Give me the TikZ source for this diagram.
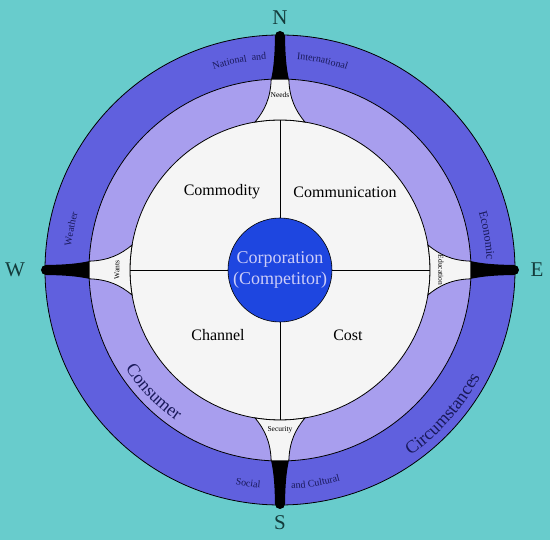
\documentclass[tikz,border=0pt]{standalone}
\usepackage{fontspec}
\setmainfont{Liberation Serif}
\usetikzlibrary{decorations.text}

\definecolor{bgcyan}{RGB}{104,204,204}
\definecolor{darkband}{RGB}{96,96,222}
\definecolor{lightband}{RGB}{168,158,238}
\definecolor{whitedisk}{RGB}{245,245,245}
\definecolor{corpblue}{RGB}{30,70,224}
\definecolor{corptext}{RGB}{205,205,248}
\definecolor{bandtext}{RGB}{25,25,90}
\definecolor{pointtext}{RGB}{20,60,60}

\newcommand{\smallband}{\fontsize{10}{12}\selectfont\color{bandtext}}
\newcommand{\midband}{\fontsize{12}{14}\selectfont\color{bandtext}}
\newcommand{\bigband}{\fontsize{18}{20}\selectfont\color{bandtext}}

\tikzset{
  ring/.style={circle, draw=black, line width=0.8pt, inner sep=0pt},
  quadlabel/.style={font=\fontsize{16}{18}\selectfont},
  pointlabel/.style={font=\fontsize{21}{24}\selectfont, text=pointtext},
  gatelabel/.style={font=\fontsize{7.5}{8}\selectfont},
  funnel/.style={fill=whitedisk, draw=black, line width=0.8pt},
  alongarc/.style={decorate, decoration={text along path, text align=center, text={#1}}}
}

\begin{document}
\begin{tikzpicture}[x=1pt,y=1pt]
  \useasboundingbox (-280,-270) rectangle (270,270);
  \fill[bgcyan] (-280,-270) rectangle (270,270);

  % rings
  \node[ring, fill=darkband, minimum size=470pt] (outer) at (0,0) {};
  \node[ring, fill=lightband, minimum size=382pt] (middle) at (0,0) {};
  \node[ring, fill=whitedisk, minimum size=300pt] (inner) at (0,0) {};

  % compass points
  \foreach \ang in {0,90,180,270}{
    \begin{scope}[rotate=\ang]
      \fill[black] (190,-9) .. controls (203,-6.2) and (215,-5.3) .. (234,-5)
        arc[start angle=-90, end angle=90, radius=5]
        .. controls (215,5.3) and (203,6.2) .. (190,9) -- cycle;
      \path[funnel] (190.8,8.8) .. controls (172,9.5) and (160,15) .. (147.9,25)
        arc[start angle=9.59, end angle=-9.59, radius=150]
        .. controls (160,-15) and (172,-9.5) .. (190.8,-8.8) -- cycle;
    \end{scope}
  }

  \node[pointlabel] (north) at (0,252) {N};
  \node[pointlabel] (south) at (0,-253) {S};
  \node[pointlabel] (west) at (-265,0) {W};
  \node[pointlabel] (east) at (257,0) {E};

  \node[gatelabel] (needs) at (0,175) {Needs};
  \node[gatelabel] (security) at (0,-160) {Security};
  \node[gatelabel, rotate=90] (wants) at (-163,0) {Wants};
  \node[gatelabel, rotate=-90] (education) at (161,0) {Education};

  % centre
  \node[circle, fill=corpblue, draw=black, line width=0.6pt, minimum size=104pt, inner sep=0pt,
        align=center, text=corptext, font=\fontsize{18}{21}\selectfont] (corp) at (0,0) {Corporation\\(Competitor)};
  \draw[line width=0.7pt] (corp.north) -- (inner.north);
  \draw[line width=0.7pt] (corp.south) -- (inner.south);
  \draw[line width=0.7pt] (corp.west) -- (inner.west);
  \draw[line width=0.7pt] (corp.east) -- (inner.east);

  \node[quadlabel] (commodity) at (-58,78) {Commodity};
  \node[quadlabel] (communication) at (65,78) {Communication};
  \node[quadlabel] (channel) at (-62,-65) {Channel};
  \node[quadlabel] (cost) at (68,-65) {Cost};

  % texts on the bands
  \path[alongarc={|\smallband|National \ and}] (111:211) arc[start angle=111, end angle=91, radius=211];
  \path[alongarc={|\smallband|International}] (88:211) arc[start angle=88, end angle=69, radius=211];
  \path[alongarc={|\smallband|Weather}] (176:210) arc[start angle=176, end angle=162, radius=210];
  \path[alongarc={|\midband|Economic}] (19:207) arc[start angle=19, end angle=0, radius=207];
  \path[alongarc={|\smallband|Social}] (255:219) arc[start angle=255, end angle=268, radius=219];
  \path[alongarc={|\smallband|and Cultural}] (272:219) arc[start angle=272, end angle=287, radius=219];
  \path[alongarc={|\bigband|Consumer}] (206:183) arc[start angle=206, end angle=242, radius=183];
  \path[alongarc={|\bigband|Circumstances}] (300:227) arc[start angle=300, end angle=337, radius=227];
\end{tikzpicture}
\end{document}
